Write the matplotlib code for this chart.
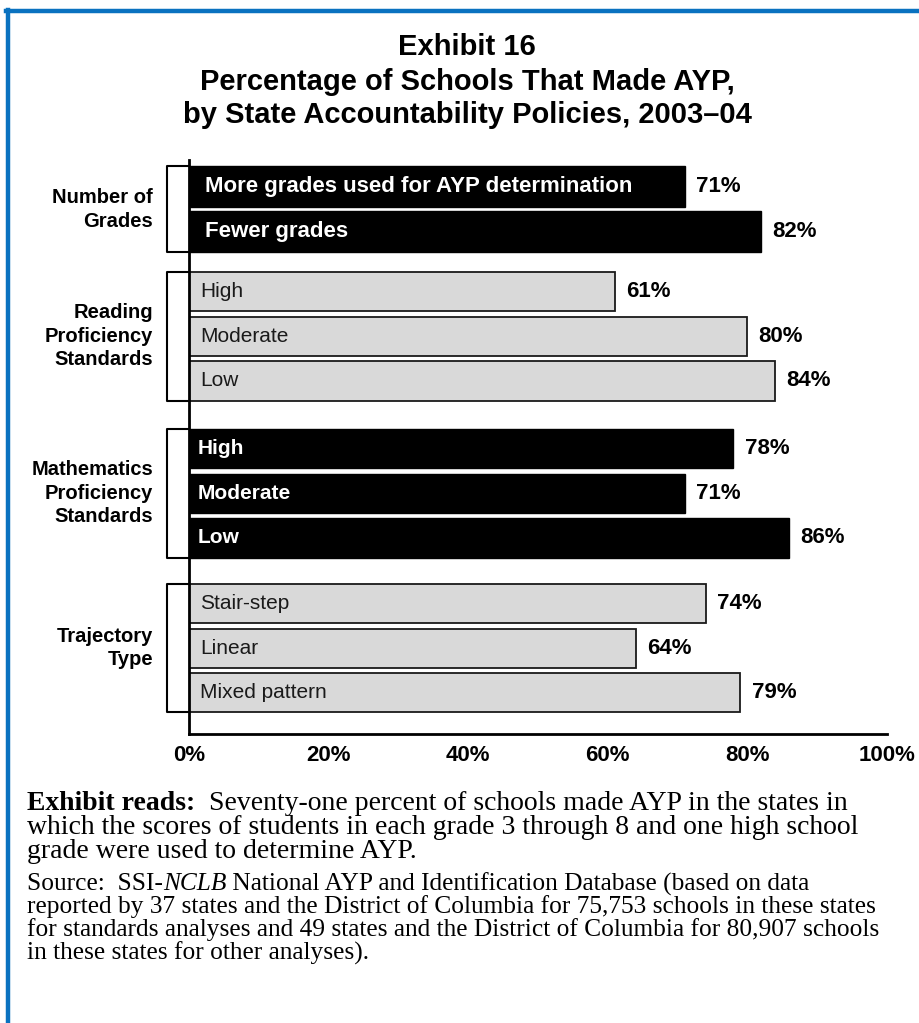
import matplotlib
matplotlib.use("Agg")
import matplotlib.pyplot as plt
from matplotlib.lines import Line2D
from matplotlib.transforms import blended_transform_factory

# data
groups = ['Number of\nGrades', 'Reading\nProficiency\nStandards',
          'Mathematics\nProficiency\nStandards', 'Trajectory\nType']
group_sizes = [2, 3, 3, 3]
group_dark = [True, False, True, False]
bar_labels = ['More grades used for AYP determination', 'Fewer grades',
              'High', 'Moderate', 'Low',
              'High', 'Moderate', 'Low',
              'Stair-step', 'Linear', 'Mixed pattern']
values = [71, 82, 61, 80, 84, 78, 71, 86, 74, 64, 79]
xticks = [0, 20, 40, 60, 80, 100]

title_lines = ['Exhibit 16',
               'Percentage of Schools That Made AYP,',
               'by State Accountability Policies, 2003\u201304']

W, H = 920, 1023
fig = plt.figure(figsize=(W / 100, H / 100), dpi=100)
sans = 'Liberation Sans'
serif = 'Liberation Serif'

# blue frame (top + left)
fig.add_artist(Line2D([6 / W, 1], [1 - 11 / H, 1 - 11 / H], color='#0a72c0', lw=3.2))
fig.add_artist(Line2D([8 / W, 8 / W], [1 - 10 / H, 0], color='#0a72c0', lw=3.2))

for txt, yp in zip(title_lines, [47, 82, 115]):
    fig.text(467 / W, 1 - yp / H, txt, ha='center', va='center',
             fontsize=21, fontweight='bold', family=sans)

ax = fig.add_axes([189 / W, 1 - 734 / H, (887 - 189) / W, (734 - 160) / H])

# extra space between groups (in bar units)
group_gaps = [0.0, 0.35, 0.52, 0.47]
pos = []
offset = 0.0
for g, n in enumerate(group_sizes):
    offset += group_gaps[g]
    start = sum(group_sizes[:g])
    pos += [start + i + offset for i in range(n)]

trans = blended_transform_factory(fig.transFigure, ax.transData)
k = 0
for g, n in enumerate(group_sizes):
    h = 0.92 if g == 0 else 0.88
    ys = pos[k:k + n]
    vals = values[k:k + n]
    labs = bar_labels[k:k + n]
    if group_dark[g]:
        ax.barh(ys, vals, height=h, color='black', edgecolor='black', lw=1)
    else:
        ax.barh(ys, vals, height=h, color='#d9d9d9', edgecolor='#1a1a1a', lw=1.3)
    for y, v, lab in zip(ys, vals, labs):
        if group_dark[g]:
            inset = 2.3 if g == 0 else 1.2
            ax.text(inset, y, lab, color='white', va='center', fontsize=16 if g == 0 else 15,
                    fontweight='bold', family=sans)
        else:
            ax.text(1.6, y, lab, color='#1a1a1a', va='center', fontsize=15, family=sans)
        ax.annotate(f'{v}%', (v, y), xytext=(8, 0), textcoords='offset points',
                    va='center', ha='left', fontsize=16, fontweight='bold', family=sans)
    # bracket and group label
    top = ys[0] - h / 2
    bot = ys[-1] + h / 2
    ax.plot([189 / W, 167 / W, 167 / W, 189 / W], [top, top, bot, bot], color='black',
            lw=1.5, transform=trans, clip_on=False)
    mid = (ys[0] + ys[-1]) / 2
    ax.text(153 / W, mid, groups[g], transform=trans, ha='right', va='center',
            fontsize=14.5, fontweight='bold', family=sans, linespacing=1.3)
    k += n

ax.set_xlim(0, 100)
ax.set_ylim(12.265, -0.605)
ax.set_yticks([])
ax.set_xticks(xticks)
ax.set_xticklabels([f'{t}%' for t in xticks], fontsize=16, fontweight='bold', family=sans)
ax.tick_params(axis='x', length=0, pad=8)
for s in ['top', 'right']:
    ax.spines[s].set_visible(False)
ax.spines['left'].set_linewidth(2)
ax.spines['bottom'].set_linewidth(2)

# footer notes with mixed styles
renderer = fig.canvas.get_renderer()


def rich_line(x_px, y_px, parts, size):
    x = x_px / W
    for s, kw in parts:
        t = fig.text(x, 1 - y_px / H, s, fontsize=size, family=serif, va='center', **kw)
        x += t.get_window_extent(renderer).width / fig.bbox.width


reads = [
    [('Exhibit reads:', {'fontweight': 'bold'}),
     ('  Seventy-one percent of schools made AYP in the states in', {})],
    [('which the scores of students in each grade 3 through 8 and one high school', {})],
    [('grade were used to determine AYP.', {})],
]
source = [
    [('Source:  SSI-', {}), ('NCLB', {'style': 'italic'}),
     (' National AYP and Identification Database (based on data', {})],
    [('reported by 37 states and the District of Columbia for 75,753 schools in these states', {})],
    [('for standards analyses and 49 states and the District of Columbia for 80,907 schools', {})],
    [('in these states for other analyses).', {})],
]
for parts, yp in zip(reads, [803, 828, 852]):
    rich_line(27, yp, parts, 20)
for parts, yp in zip(source, [884, 907, 930, 953]):
    rich_line(27, yp, parts, 18.3)

fig.savefig('out.png', dpi=100)
